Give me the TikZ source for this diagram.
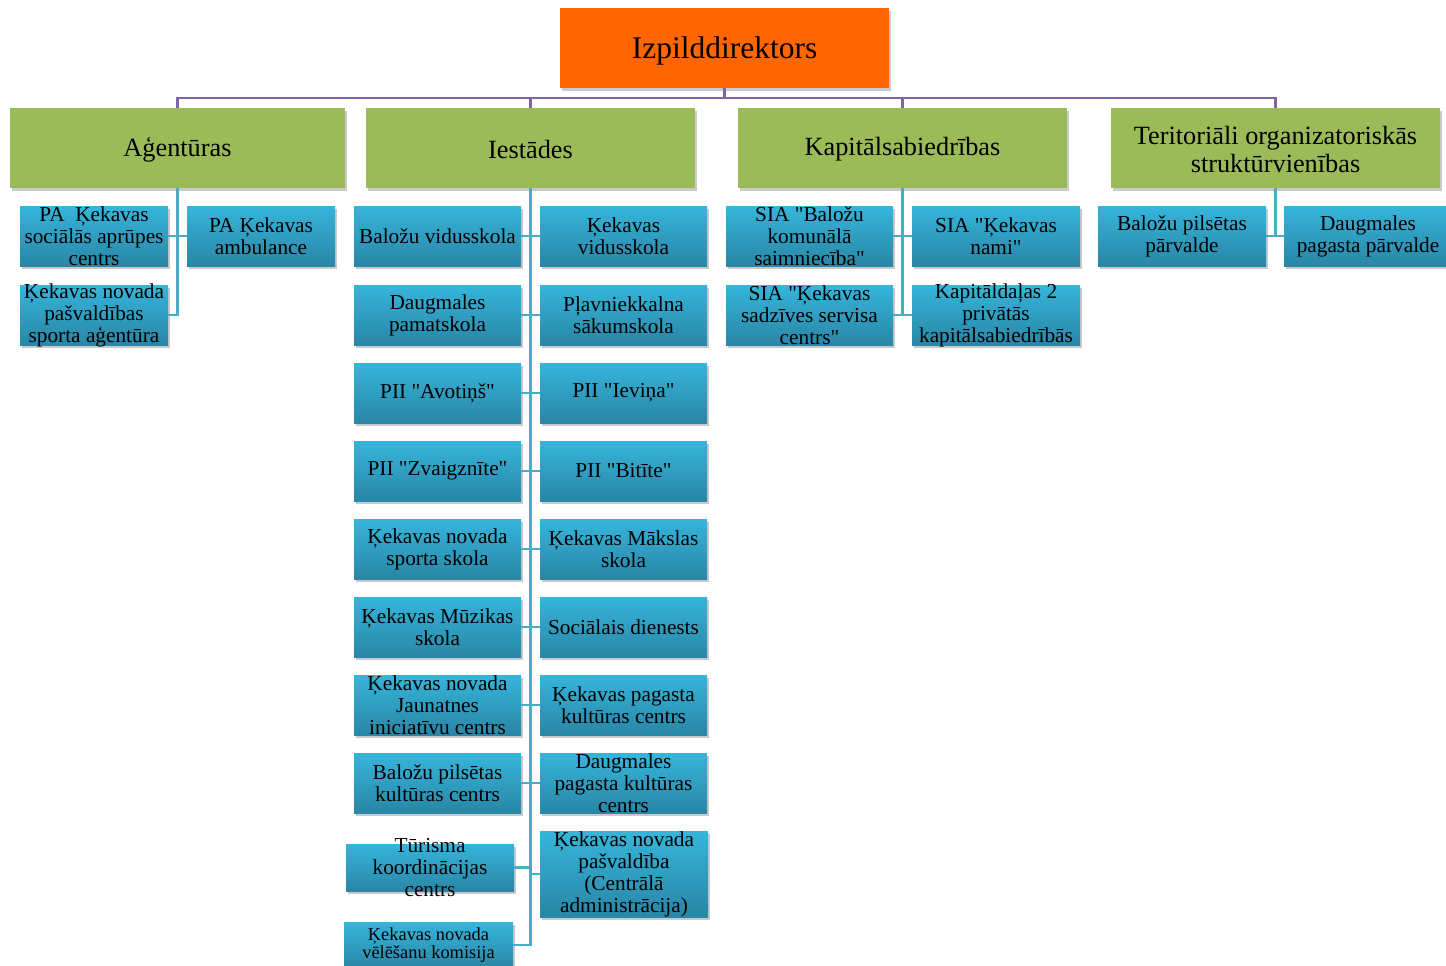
\documentclass[tikz,border=0pt]{standalone}
\usepackage{fontspec}
\setmainfont{Liberation Serif}
\usetikzlibrary{shadows}
\definecolor{orng}{HTML}{FF6600}
\definecolor{grn}{HTML}{9BBB59}
\definecolor{btop}{HTML}{36B5DB}
\definecolor{bbot}{HTML}{2986A6}
\definecolor{purp}{HTML}{8064A2}
\definecolor{lblue}{HTML}{4BACC6}
\newcommand{\qd}{\textquotedbl}
\tikzset{
  shd/.style={drop shadow={opacity=0.35, shadow xshift=2pt, shadow yshift=-3pt, fill=black!60}},
  topbox/.style={rectangle, fill=orng, inner sep=0pt, shd},
  grbox/.style={rectangle, fill=grn, inner sep=0pt, shd},
  blbox/.style={rectangle, top color=btop, bottom color=bbot, inner sep=0pt, shd},
  ttop/.style={inner sep=0pt, align=center, yshift=-3pt, font=\fontsize{31.5}{34}\selectfont},
  tgr/.style={inner sep=0pt, align=center, yshift=-1.5pt, font=\fontsize{26.3}{28}\selectfont},
  tbl/.style={inner sep=0pt, align=center, font=\fontsize{21.3}{22}\selectfont},
  tsm/.style={inner sep=0pt, align=center, font=\fontsize{18.4}{18.5}\selectfont},
  pline/.style={draw=purp, line width=2.4pt},
  bline/.style={draw=lblue, line width=2.6pt},
}
\newcommand{\bx}[8]{%
  \node[#1, minimum width={(#6-#4)*1pt}, minimum height={(#7-#5)*1pt}] (#3) at ({(#4+#6)/2},{(#5+#7)/2}) {};
  \node[#2] (#3t) at (#3.center) {#8};}
\begin{document}
\begin{tikzpicture}[x=1pt,y=-1pt]
\useasboundingbox (0,0) rectangle (1446,966);
\clip (0,0) rectangle (1446,966);
% top
\bx{topbox}{ttop}{dir}{560}{8}{889}{88}{Izpilddirektors}
% level 2
\bx{grbox}{tgr}{ag}{10}{108}{345}{188}{Aģentūras}
\bx{grbox}{tgr}{ie}{366}{108}{695}{188}{Iestādes}
\bx{grbox}{tgr}{ka}{738}{108}{1067}{188}{Kapitālsabiedrības}
\bx{grbox}{tgr}{te}{1111}{108}{1440}{188}{Teritoriāli organizatoriskās\\struktūrvienības}
% purple connectors
\draw[pline] (dir.south) -- ++(0,10) coordinate (bus);
\draw[pline] (ag.north) |- (bus) -| (te.north);
\draw[pline] (ie.north) -- (ie.north |- bus);
\draw[pline] (ka.north) -- (ka.north |- bus);
% Agentūras children
\bx{blbox}{tbl}{ag1}{20}{206}{168}{266}{PA\ \ Ķekavas\\sociālās aprūpes\\centrs}
\bx{blbox}{tbl}{ag2}{20}{285}{168}{345}{Ķekavas novada\\pašvaldības\\sporta aģentūra}
\bx{blbox}{tbl}{ag3}{187}{206}{335}{266}{PA Ķekavas\\ambulance}
% Iestādes
\bx{blbox}{tbl}{i1l}{354}{206}{521}{266}{Baložu vidusskola}
\bx{blbox}{tbl}{i1r}{540}{206}{707}{266}{Ķekavas\\vidusskola}
\bx{blbox}{tbl}{i2l}{354}{285}{521}{345}{Daugmales\\pamatskola}
\bx{blbox}{tbl}{i2r}{540}{285}{707}{345}{Pļavniekkalna\\sākumskola}
\bx{blbox}{tbl}{i3l}{354}{363}{521}{423}{PII \qd Avotiņš\qd}
\bx{blbox}{tbl}{i3r}{540}{363}{707}{423}{PII \qd Ieviņa\qd}
\bx{blbox}{tbl}{i4l}{354}{441}{521}{501}{PII \qd Zvaigznīte\qd}
\bx{blbox}{tbl}{i4r}{540}{441}{707}{501}{PII \qd Bitīte\qd}
\bx{blbox}{tbl}{i5l}{354}{519}{521}{579}{Ķekavas novada\\sporta skola}
\bx{blbox}{tbl}{i5r}{540}{519}{707}{579}{Ķekavas Mākslas\\skola}
\bx{blbox}{tbl}{i6l}{354}{597}{521}{657}{Ķekavas Mūzikas\\skola}
\bx{blbox}{tbl}{i6r}{540}{597}{707}{657}{Sociālais dienests}
\bx{blbox}{tbl}{i7l}{354}{675}{521}{735}{Ķekavas novada\\Jaunatnes\\iniciatīvu centrs}
\bx{blbox}{tbl}{i7r}{540}{675}{707}{735}{Ķekavas pagasta\\kultūras centrs}
\bx{blbox}{tbl}{i8l}{354}{753}{521}{813}{Baložu pilsētas\\kultūras centrs}
\bx{blbox}{tbl}{i8r}{540}{753}{707}{813}{Daugmales\\pagasta kultūras\\centrs}
\bx{blbox}{tbl}{tur}{346}{844}{514}{891}{Tūrisma\\koordinācijas\\centrs}
\bx{blbox}{tbl}{cen}{540}{831}{708}{917}{Ķekavas novada\\pašvaldība\\(Centrālā\\administrācija)}
\bx{blbox}{tsm}{vel}{344}{922}{513}{968}{Ķekavas novada\\vēlēšanu komisija}
% Kapitālsabiedrības
\bx{blbox}{tbl}{k1}{726}{206}{893}{266}{SIA \qd Baložu\\komunālā\\saimniecība\qd}
\bx{blbox}{tbl}{k2}{912}{206}{1080}{266}{SIA \qd Ķekavas\\nami\qd}
\bx{blbox}{tbl}{k3}{726}{285}{893}{345}{SIA \qd Ķekavas\\sadzīves servisa\\centrs\qd}
\bx{blbox}{tbl}{k4}{912}{285}{1080}{345}{Kapitāldaļas 2\\privātās\\kapitālsabiedrībās}
% Teritoriāli
\bx{blbox}{tbl}{t1}{1098}{206}{1266}{266}{Baložu pilsētas\\pārvalde}
\bx{blbox}{tbl}{t2}{1284}{206}{1452}{266}{Daugmales\\pagasta pārvalde}
% blue connectors
\draw[bline] (ag.south) |- (ag2.east);
\draw[bline] (ag1.east) -- (ag3.west);
\draw[bline] (ie.south) |- (vel.east);
\foreach \r in {1,...,8} {\draw[bline] (i\r l.east) -- (i\r r.west);}
\draw[bline] (ie.south) |- (tur.east);
\draw[bline] (ie.south) |- (cen.west);
\draw[bline] (ka.south) |- (k3.east);
\draw[bline] (k1.east) -- (k2.west);
\draw[bline] (k3.east) -- (k4.west);
\draw[bline] (te.south) |- (t1.east);
\draw[bline] (t1.east) -- (t2.west);
\end{tikzpicture}
\end{document}
